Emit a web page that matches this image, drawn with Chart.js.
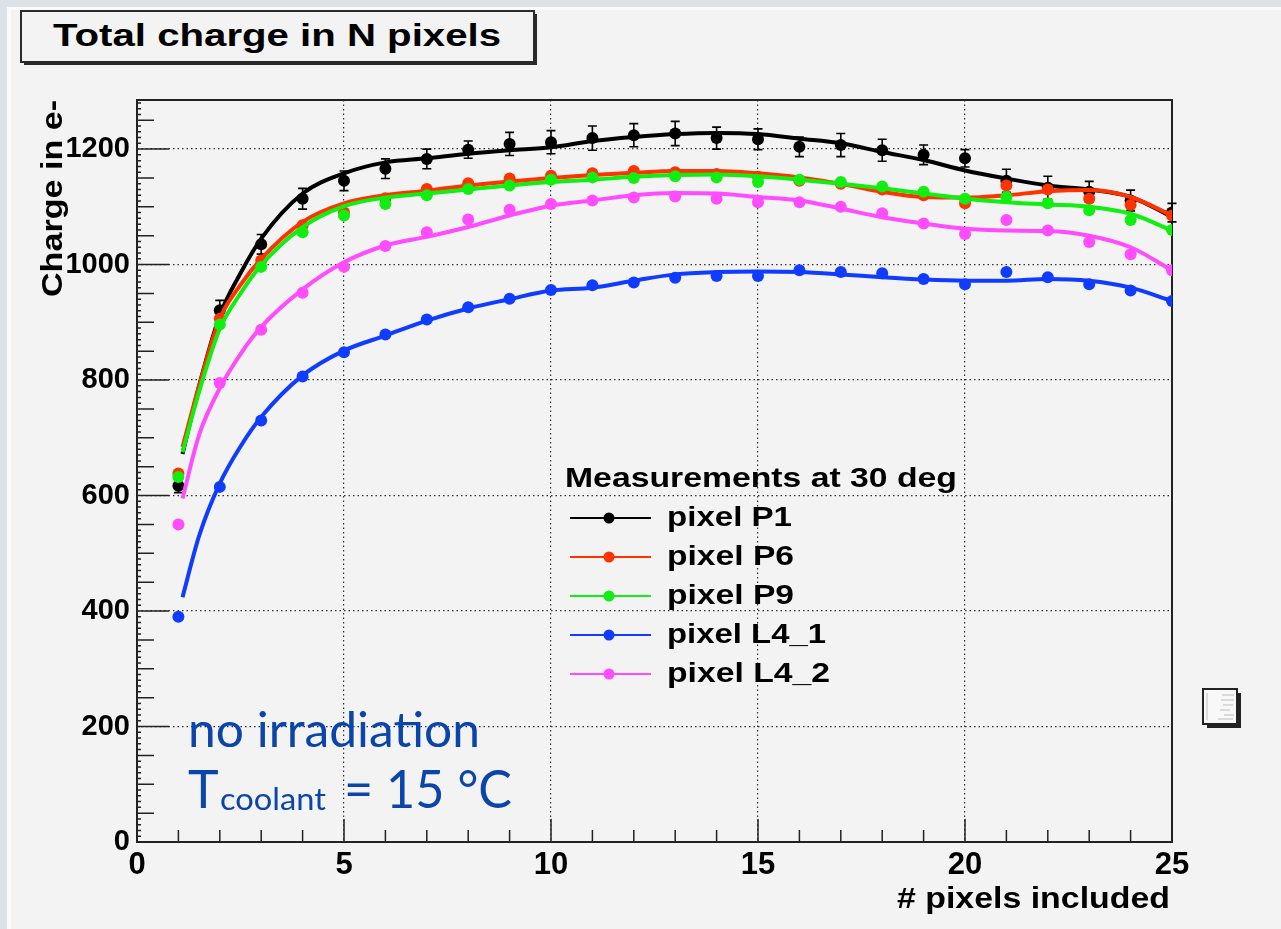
<!DOCTYPE html>
<html lang="en">
<head>
<meta charset="UTF-8">
<title>Total charge in N pixels</title>
<script src="https://cdn.jsdelivr.net/npm/chart.js"></script>
<style>
    body {
        margin: 0;
        width: 1281px;
        height: 929px;
        overflow: hidden;
        position: relative;
        background: #dde1e8;
        font-family: 'Liberation Sans', Arial, sans-serif;
    }

    /* light gray ROOT canvas sitting on the slide */
    .panel {
        position: absolute;
        left: 7px;
        top: 7px;
        right: 0;
        bottom: 0;
        background: #f3f3f3;
        border-left: 4px solid #fbfbfb;
        border-top: 3px solid #fbfbfb;
    }

    #chart {
        position: absolute;
        left: 0;
        top: 0;
    }

    svg.overlay {
        position: absolute;
        left: 0;
        top: 0;
        pointer-events: none;
    }

    .bold { font-family: 'Liberation Sans', Arial, sans-serif; font-weight: bold; }
    .note { font-family: Lato, 'Open Sans', sans-serif; fill: #0b45a9; }
</style>
</head>
<body>

<div class="panel"></div>
<canvas id="chart" width="1281" height="929"></canvas>

<svg class="overlay" width="1281" height="929">
    <!-- title pave -->
    <rect x="24" y="14" width="513" height="51" fill="#2a2a2a"/>
    <rect x="21" y="11" width="513" height="51" fill="#f3f3f3" stroke="#2a2a2a" stroke-width="2"/>
    <text class="bold" x="53" y="46" font-size="32" textLength="448" lengthAdjust="spacingAndGlyphs">Total charge in N pixels</text>

    <!-- axis titles -->
    <text class="bold" font-size="30" text-anchor="end" transform="translate(62,100) rotate(-90)" textLength="197" lengthAdjust="spacingAndGlyphs">Charge in e-</text>
    <text class="bold" x="1170" y="908" font-size="30" text-anchor="end" textLength="273" lengthAdjust="spacingAndGlyphs"># pixels included</text>

    <!-- legend -->
    <g id="legend"></g>

    <!-- annotation -->
    <text class="note" x="188" y="747" font-size="48" textLength="292" lengthAdjust="spacingAndGlyphs">no irradiation</text>
    <text class="note" x="188" y="808" font-size="52">T</text>
    <text class="note" x="220" y="810" font-size="31" textLength="106" lengthAdjust="spacingAndGlyphs">coolant</text>
    <text class="note" x="344" y="808" font-size="52" textLength="168" lengthAdjust="spacingAndGlyphs">= 15 °C</text>

    <!-- small canvas icon -->
    <rect x="1207" y="693" width="34" height="35" fill="#222"/>
    <rect x="1203" y="689" width="34" height="35" fill="#f8f8f8" stroke="#222" stroke-width="2"/>
    <g stroke="#bbb" stroke-width="1">
        <line x1="1222" y1="695" x2="1234" y2="695"/>
        <line x1="1221" y1="700" x2="1234" y2="700"/>
        <line x1="1223" y1="705" x2="1233" y2="705"/>
        <line x1="1220" y1="710" x2="1230" y2="710"/>
        <line x1="1224" y1="715" x2="1234" y2="715"/>
        <line x1="1218" y1="719" x2="1233" y2="719"/>
        <line x1="1207" y1="693" x2="1207" y2="720"/>
    </g>
</svg>

<script>
    // number of pixels summed (x values of the measurements)
    const nPixels = [1, 2, 3, 4, 5, 6, 7, 8, 9, 10, 11, 12, 13, 14, 15, 16, 17, 18, 19, 20, 21, 22, 23, 24, 25];

    const seriesNames = ['pixel P1', 'pixel P6', 'pixel P9', 'pixel L4_1', 'pixel L4_2'];
    const seriesColors = ['#000000', '#ff3300', '#11ee11', '#0f3cff', '#ff4cff'];

    // measured charge (e-)
    const chargeP1 = [617, 921, 1035, 1114, 1145, 1166, 1183, 1199, 1209, 1212, 1219, 1224, 1227, 1219, 1217, 1204, 1207, 1198, 1190, 1184, 1145, 1133, 1126, 1111, 1090];
    const errP1 = [12, 17, 17, 18, 17, 17, 17, 15, 20, 20, 21, 20, 21, 19, 18, 17, 20, 19, 17, 15, 20, 20, 18, 18, 16];
    const chargeP6 = [638, 906, 1007, 1068, 1090, 1115, 1131, 1141, 1149, 1154, 1158, 1162, 1160, 1157, 1152, 1145, 1140, 1130, 1120, 1106, 1137, 1130, 1114, 1103, 1085];
    const chargeP9 = [632, 896, 996, 1056, 1085, 1105, 1120, 1131, 1137, 1147, 1151, 1150, 1153, 1151, 1143, 1147, 1143, 1135, 1126, 1114, 1117, 1106, 1094, 1077, 1060];
    const chargeL41 = [390, 615, 730, 806, 848, 879, 905, 926, 941, 956, 964, 969, 977, 980, 980, 990, 987, 985, 975, 966, 987, 978, 966, 955, 937];
    const chargeL42 = [550, 795, 887, 951, 996, 1032, 1056, 1078, 1095, 1105, 1111, 1116, 1118, 1114, 1108, 1108, 1100, 1089, 1071, 1053, 1077, 1059, 1039, 1018, 990];

    // fitted curves
    const fitN = [1.1, 1.5, 2, 2.5, 3, 4, 5, 6, 7, 8, 9, 10, 11, 12, 13, 14, 15, 16, 17, 18, 19, 20, 21, 22, 23, 24, 25];
    const fitP1 = [672, 790, 912, 985, 1045, 1123, 1158, 1177, 1184, 1192, 1198, 1203, 1214, 1221, 1226, 1228, 1226, 1218, 1210, 1195, 1181, 1163, 1149, 1137, 1130, 1117, 1083];
    const fitP6 = [684, 790, 906, 965, 1010, 1074, 1106, 1120, 1128, 1137, 1144, 1150, 1155, 1159, 1162, 1162, 1158, 1151, 1140, 1126, 1117, 1116, 1120, 1127, 1129, 1117, 1085];
    const fitP9 = [675, 780, 889, 950, 999, 1065, 1101, 1116, 1123, 1130, 1137, 1143, 1147, 1152, 1155, 1156, 1153, 1147, 1140, 1132, 1123, 1114, 1108, 1104, 1100, 1088, 1059];
    const fitL41 = [424, 530, 621, 685, 736, 808, 851, 877, 903, 924, 940, 955, 960, 972, 983, 987, 988, 987, 983, 978, 974, 972, 972, 975, 972, 960, 937];
    const fitL42 = [595, 705, 786, 845, 892, 957, 1004, 1033, 1048, 1065, 1085, 1102, 1111, 1120, 1124, 1123, 1117, 1111, 1097, 1082, 1071, 1062, 1059, 1058, 1050, 1030, 990];

    const measured = [chargeP1, chargeP6, chargeP9, chargeL41, chargeL42];
    const fitted = [fitP1, fitP6, fitP9, fitL41, fitL42];

    const xMin = 0, xMax = 25, yMin = 0, yMax = 1285;

    // build datasets: fit curve + markers for each series
    const datasets = [];
    seriesNames.forEach((name, s) => {
        datasets.push({
            label: name + ' fit',
            data: fitN.map((n, i) => ({ x: n, y: fitted[s][i] })),
            showLine: true,
            borderColor: seriesColors[s],
            borderWidth: 4,
            pointRadius: 0,
            tension: 0.4,
            cubicInterpolationMode: 'monotone',
            order: 20 - 2 * s
        });
        datasets.push({
            label: name,
            data: nPixels.map((n, i) => ({ x: n, y: measured[s][i] })),
            showLine: false,
            backgroundColor: seriesColors[s],
            borderColor: seriesColors[s],
            pointRadius: 6,
            pointBorderWidth: 0,
            order: 19 - 2 * s
        });
    });

    // ROOT-like frame with inner ticks
    const frameTicks = {
        id: 'frameTicks',
        beforeDatasetsDraw(chart) {
            const { ctx, chartArea: a, scales: { x, y } } = chart;
            ctx.save();
            ctx.strokeStyle = '#222';
            ctx.lineWidth = 1.5;
            ctx.beginPath();
            for (let v = xMin; v <= xMax; v += 1) {
                const px = x.getPixelForValue(v);
                const len = v % 5 === 0 ? 23 : 12;
                ctx.moveTo(px, a.bottom);
                ctx.lineTo(px, a.bottom - len);
            }
            for (let v = yMin; v <= yMax; v += 10) {
                const py = y.getPixelForValue(v);
                const len = v % 200 === 0 ? 32 : (v % 50 === 0 ? 17 : 4);
                ctx.moveTo(a.left, py);
                ctx.lineTo(a.left + len, py);
            }
            ctx.stroke();
            ctx.lineWidth = 2;
            ctx.strokeRect(a.left, a.top, a.right - a.left, a.bottom - a.top);
            ctx.restore();
        }
    };

    // error bars for pixel P1
    const errorBars = {
        id: 'errorBars',
        afterDatasetDraw(chart, args) {
            if (args.index !== 1) return;
            const { ctx, scales: { x, y } } = chart;
            ctx.save();
            ctx.strokeStyle = '#000';
            ctx.lineWidth = 1.6;
            ctx.beginPath();
            nPixels.forEach((n, i) => {
                const px = x.getPixelForValue(n);
                const top = y.getPixelForValue(chargeP1[i] + errP1[i]);
                const bot = y.getPixelForValue(chargeP1[i] - errP1[i]);
                ctx.moveTo(px, top); ctx.lineTo(px, bot);
                ctx.moveTo(px - 4.5, top); ctx.lineTo(px + 4.5, top);
                ctx.moveTo(px - 4.5, bot); ctx.lineTo(px + 4.5, bot);
            });
            ctx.stroke();
            ctx.restore();
        }
    };

    new Chart(document.getElementById('chart'), {
        type: 'scatter',
        data: { datasets },
        options: {
            responsive: false,
            devicePixelRatio: 1,
            animation: false,
            layout: { padding: { left: 0, top: 100, right: 109, bottom: 0 } },
            plugins: {
                legend: { display: false },
                tooltip: { enabled: false }
            },
            scales: {
                x: {
                    type: 'linear',
                    min: xMin,
                    max: xMax,
                    afterFit(scale) { scale.height = 87; },
                    ticks: {
                        stepSize: 5,
                        color: '#000',
                        padding: 5,
                        maxRotation: 0,
                        callback: v => String(v),
                        font: { family: "'Liberation Sans', Arial, sans-serif", size: 31, weight: 'bold' }
                    },
                    grid: { color: '#333', lineWidth: 1.2, drawTicks: false },
                    border: { display: false, dash: [1.5, 3] }
                },
                y: {
                    type: 'linear',
                    min: yMin,
                    max: yMax,
                    afterFit(scale) { scale.width = 137; },
                    ticks: {
                        stepSize: 200,
                        includeBounds: false,
                        color: '#000',
                        padding: 7,
                        callback: v => String(v),
                        font: { family: "'Liberation Sans Narrow', 'Liberation Sans', Arial, sans-serif", size: 29, weight: 'bold' }
                    },
                    grid: { color: '#333', lineWidth: 1.2, drawTicks: false },
                    border: { display: false, dash: [1.5, 3] }
                }
            }
        },
        plugins: [frameTicks, errorBars]
    });

    // legend box
    const legend = document.getElementById('legend');
    const svgNS = 'http://www.w3.org/2000/svg';
    const legendWidths = [125, 127, 127, 159, 163];
    function add(tag, attrs, text) {
        const el = document.createElementNS(svgNS, tag);
        Object.keys(attrs).forEach(k => el.setAttribute(k, attrs[k]));
        if (text) el.textContent = text;
        legend.appendChild(el);
        return el;
    }
    add('text', { class: 'bold', x: 565, y: 487, 'font-size': 28, textLength: 392, lengthAdjust: 'spacingAndGlyphs' }, 'Measurements at 30 deg');
    seriesNames.forEach((name, s) => {
        const ry = 518 + s * 39;
        add('line', { x1: 570, y1: ry, x2: 651, y2: ry, stroke: seriesColors[s], 'stroke-width': 2 });
        add('circle', { cx: 609, cy: ry, r: 5.5, fill: seriesColors[s] });
        add('text', { class: 'bold', x: 667, y: ry + 8, 'font-size': 28, textLength: legendWidths[s], lengthAdjust: 'spacingAndGlyphs' }, name);
    });
</script>
</body>
</html>
